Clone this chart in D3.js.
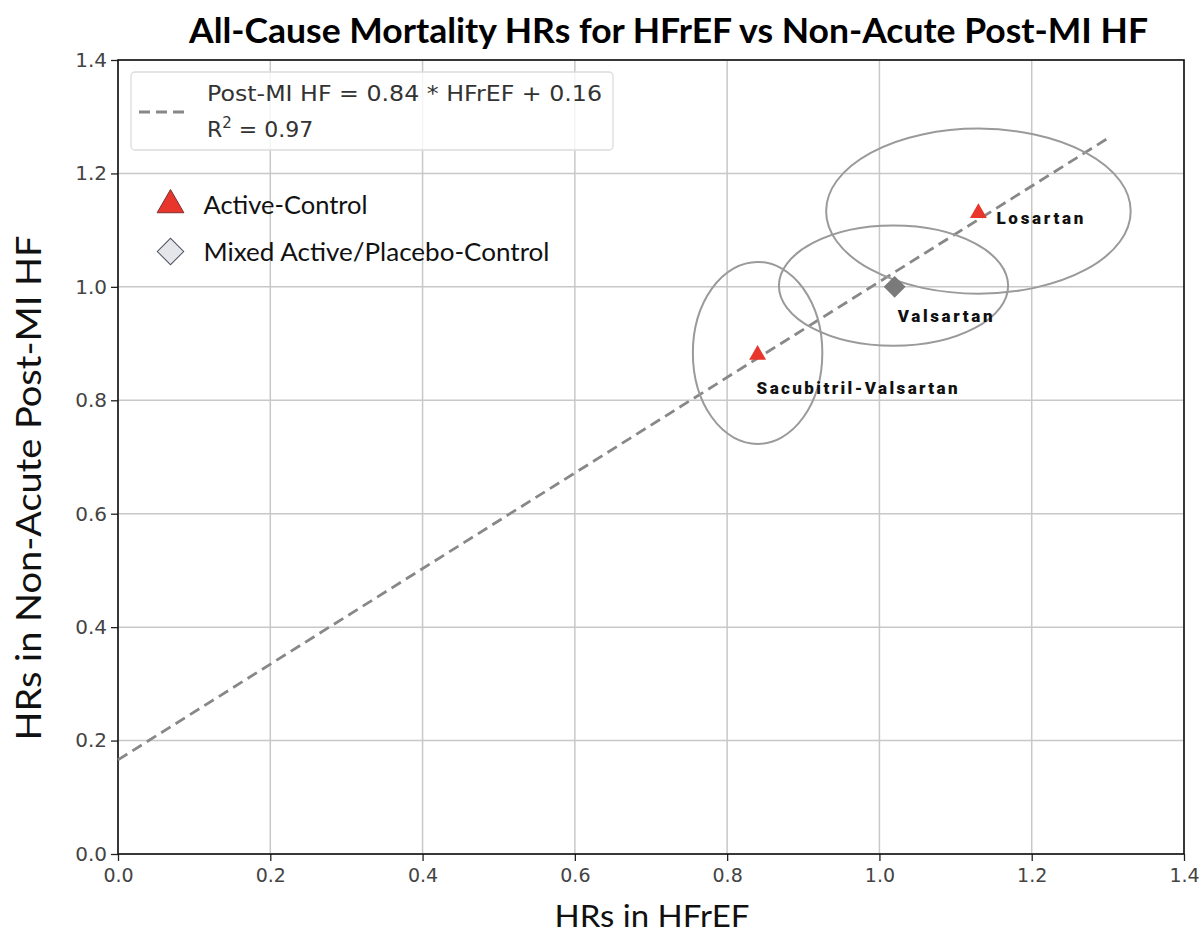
<!DOCTYPE html>
<html><head><meta charset="utf-8">
<script src="https://cdn.jsdelivr.net/npm/d3@7"></script>
<style>body{margin:0;background:#fff}svg{display:block}</style>
</head><body>
<svg id="c" width="1204" height="936"></svg>
<script>
const drugs = ["Losartan","Valsartan","Sacubitril-Valsartan"];
const hfrefHR = [1.13, 1.02, 0.84];
const postMiHR = [1.13, 1.00, 0.88];
const controlType = ["Active-Control","Mixed Active/Placebo-Control","Active-Control"];
const ciXLow = [0.93, 0.868, 0.755];
const ciXHigh = [1.33, 1.169, 0.925];
const ciYLow = [0.988, 0.896, 0.723];
const ciYHigh = [1.279, 1.108, 1.044];
const fitX = [0, 1.3];
const fitY = [0.166, 1.262];
const ticks = [0, 0.2, 0.4, 0.6, 0.8, 1.0, 1.2, 1.4];
const legendTypes = ["Active-Control","Mixed Active/Placebo-Control"];

const svg = d3.select("#c");
const x = d3.scaleLinear().domain([0,1.4]).range([118,1184]);
const y = d3.scaleLinear().domain([0,1.4]).range([854,60]);

// grid
const g = svg.append("g");
g.selectAll(".gx").data(ticks).join("line")
 .attr("x1",d=>x(d)).attr("x2",d=>x(d)).attr("y1",y(0)).attr("y2",y(1.4))
 .attr("stroke","#c8c8c8").attr("stroke-width",1.5);
g.selectAll(".gy").data(ticks).join("line")
 .attr("y1",d=>y(d)).attr("y2",d=>y(d)).attr("x1",x(0)).attr("x2",x(1.4))
 .attr("stroke","#c8c8c8").attr("stroke-width",1.5);

// axes
const xa = svg.append("g").attr("transform",`translate(0,${y(0)})`)
 .call(d3.axisBottom(x).tickValues(ticks).tickFormat(d3.format(".1f")).tickSize(7).tickSizeOuter(0));
const ya = svg.append("g").attr("transform",`translate(${x(0)},0)`)
 .call(d3.axisLeft(y).tickValues(ticks).tickFormat(d3.format(".1f")).tickSize(7).tickSizeOuter(0));
[xa,ya].forEach(a=>{
  a.select(".domain").remove();
  a.selectAll(".tick line").attr("stroke","#222").attr("stroke-width",1.3);
  a.selectAll(".tick text").attr("fill","#444").style("font-family","DejaVu Sans");
});
xa.selectAll(".tick text").style("font-size","19px").attr("dy","1.0em").attr("y",9);
ya.selectAll(".tick text").style("font-size","20px").attr("x",-11);
// frame
svg.append("rect").attr("x",x(0)).attr("y",y(1.4)).attr("width",x(1.4)-x(0)).attr("height",y(0)-y(1.4))
 .attr("fill","none").attr("stroke","#111").attr("stroke-width",1.6);

// fit line
svg.append("line").attr("x1",x(fitX[0])).attr("y1",y(fitY[0])).attr("x2",x(fitX[1])).attr("y2",y(fitY[1]))
 .attr("stroke","#888").attr("stroke-width",2.8).attr("stroke-dasharray","11,6");

// ellipses
svg.selectAll(".ell").data(drugs).join("ellipse")
 .attr("cx",(d,i)=>(x(ciXLow[i])+x(ciXHigh[i]))/2)
 .attr("cy",(d,i)=>(y(ciYLow[i])+y(ciYHigh[i]))/2)
 .attr("rx",(d,i)=>(x(ciXHigh[i])-x(ciXLow[i]))/2)
 .attr("ry",(d,i)=>(y(ciYLow[i])-y(ciYHigh[i]))/2)
 .attr("fill","none").attr("stroke","#9a9a9a").attr("stroke-width",2);

const tri = d3.symbol().type(d3.symbolTriangle).size(125);
const dia = d3.symbol().type(d3.symbolSquare).size(240);
// points
svg.selectAll(".pt").data(drugs).join("path")
 .attr("d",(d,i)=>controlType[i]==="Active-Control"?tri():dia())
 .attr("transform",(d,i)=>`translate(${x(hfrefHR[i])},${y(postMiHR[i])})`+(controlType[i]==="Active-Control"?"":" rotate(45)"))
 .attr("fill",(d,i)=>controlType[i]==="Active-Control"?"#e8362c":"#7a7a7a");

// point labels
const lblDx = [18, 3, -1];
const lblDy = [11, 35, 39];
const lblLen = [87, 95, 201];
svg.selectAll(".lbl").data(drugs).join("text")
 .attr("x",(d,i)=>x(hfrefHR[i])+lblDx[i]).attr("y",(d,i)=>y(postMiHR[i])+lblDy[i])
 .attr("textLength",(d,i)=>lblLen[i]).attr("lengthAdjust","spacing")
 .text(d=>d).attr("fill","#111").style("font-family","Roboto").style("font-weight","900")
 .style("font-size","17px");

// legend box
svg.append("rect").attr("x",131).attr("y",72).attr("width",482).attr("height",78).attr("rx",4)
 .attr("fill","#fff").attr("fill-opacity",0.8).attr("stroke","#dcdcdc").attr("stroke-width",1.3);
svg.append("line").attr("x1",139).attr("x2",189).attr("y1",112).attr("y2",112)
 .attr("stroke","#888").attr("stroke-width",2.8).attr("stroke-dasharray","11,6");
svg.append("text").attr("x",207).attr("y",101).text("Post-MI HF = 0.84 * HFrEF + 0.16")
 .attr("textLength",395).attr("lengthAdjust","spacingAndGlyphs")
 .attr("fill","#333").style("font-family","DejaVu Sans").style("font-size","22px");
const r2 = svg.append("text").attr("x",207).attr("y",137)
 .attr("fill","#333").style("font-family","DejaVu Sans").style("font-size","22px");
r2.append("tspan").text("R");
r2.append("tspan").text("2").attr("dy",-9).style("font-size","15px");
r2.append("tspan").text(" = 0.97").attr("dy",9);

// type legend
const lg = svg.selectAll(".lg").data(legendTypes).join("g")
 .attr("transform",(d,i)=>`translate(170.5,${205+i*46.5})`);
lg.append("path").attr("d",(d,i)=>i===0?d3.symbol().type(d3.symbolTriangle).size(310)():d3.symbol().type(d3.symbolSquare).size(350)())
 .attr("transform",(d,i)=>i===0?"translate(0,0)":"translate(0,0) rotate(45)")
 .attr("fill",(d,i)=>i===0?"#e8362c":"#e4e6ea").attr("stroke",(d,i)=>i===0?"#7a3030":"#4a5060").attr("stroke-width",1);
const legLen = [164, 346];
lg.append("text").attr("x",33).attr("y",9).text(d=>d)
 .attr("textLength",(d,i)=>legLen[i]).attr("lengthAdjust","spacingAndGlyphs")
 .attr("fill","#111").style("font-family","Lato").style("font-size","25px");

// title
svg.append("text").attr("x",668.5).attr("y",43).attr("text-anchor","middle")
 .attr("textLength",959).attr("lengthAdjust","spacingAndGlyphs")
 .text("All-Cause Mortality HRs for HFrEF vs Non-Acute Post-MI HF")
 .attr("fill","#000").style("font-family","Lato").style("font-weight","bold").style("font-size","35px");
// axis labels
svg.append("text").attr("x",652).attr("y",927).attr("text-anchor","middle").text("HRs in HFrEF")
 .attr("textLength",195).attr("lengthAdjust","spacingAndGlyphs")
 .attr("fill","#111").style("font-family","Lato").style("font-size","31px");
svg.append("text").attr("transform","translate(41,488) rotate(-90)").attr("text-anchor","middle")
 .attr("textLength",505).attr("lengthAdjust","spacingAndGlyphs")
 .text("HRs in Non-Acute Post-MI HF")
 .attr("fill","#111").style("font-family","Lato").style("font-size","34px");
</script>
</body></html>
